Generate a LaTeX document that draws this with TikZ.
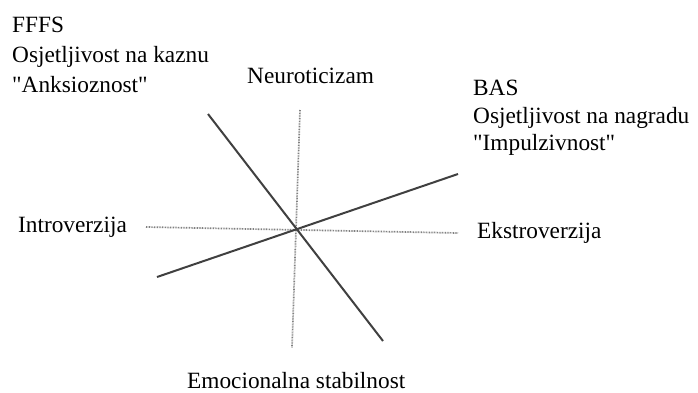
\documentclass[tikz,border=0pt]{standalone}
\usepackage{fontspec}
\setmainfont{Liberation Serif}
\newfontfamily\rawserif{Liberation Serif}
\begin{document}
\begin{tikzpicture}[x=1pt,y=-1pt,
  lbl/.style={anchor=base west,inner sep=0pt,font=\rawserif\fontsize{23.3}{27}\selectfont},
  solidax/.style={draw=black!75,line width=2pt},
  dotax/.style={draw=black!50,line width=1.7pt,dash pattern=on 0.8pt off 0.8pt}]
\useasboundingbox (0,0) rectangle (698,392);
% text
\node[lbl] (f1) at (12,32) {FFFS};
\node[lbl] (f2) at (12,62) {Osjetljivost na kaznu};
\node[lbl] (f3) at (12,92) {"Anksioznost"};
\node[lbl] (b1) at (473,95) {BAS};
\node[lbl] (b2) at (473,123) {Osjetljivost na nagradu};
\node[lbl] (b3) at (473,150) {"Impulzivnost"};
\node[lbl] (neu) at (247,83) {Neuroticizam};
\node[lbl] (intro) at (18,232) {Introverzija};
\node[lbl] (ekstro) at (477,238) {Ekstroverzija};
\node[lbl] (emo) at (187,388) {Emocionalna stabilnost};
% axes
\coordinate (c) at (298,228);
\coordinate (vt) at (300,110);
\coordinate (vb) at (292,348);
\coordinate (hl) at (146,227);
\coordinate (hr) at (458,233);
\coordinate (nw) at (208,114);
\coordinate (se) at (383,341);
\coordinate (sw) at (157,277);
\coordinate (ne) at (458,174);
\draw[dotax] (vt) -- (vb);
\draw[dotax] (hl) -- (hr);
\draw[solidax] (nw) -- (se);
\draw[solidax] (sw) -- (ne);
\end{tikzpicture}
\end{document}
